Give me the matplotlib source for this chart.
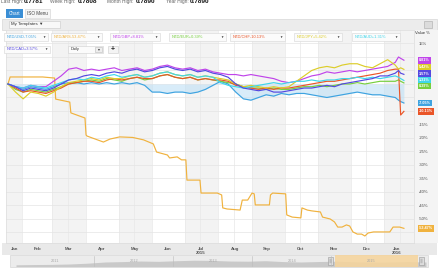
import numpy as np
import pandas as pd
import matplotlib
matplotlib.use("Agg")
import matplotlib.pyplot as plt
import matplotlib.dates as mdates
import matplotlib.transforms as mtransforms
from matplotlib.patches import Rectangle

plt.rcParams['font.family'] = ['Liberation Sans', 'DejaVu Sans']

W, H = 439, 268

# weekly samples (% change since start), plus the last few trading days
dates = list(pd.date_range("2015-01-19", "2016-01-11", freq="7D")) + \
    list(pd.to_datetime(["2016-01-14", "2016-01-16", "2016-01-19"]))

usd = [0, -1, -2, -1, -1.5, -2, -1, 0, 0.5, 0.5,
       0, 0.5, 0, 0.5, 0, 0.5, 0, 0.5, -0.5, -3,
       -3, -3.5, -3, -3, -3.5, -3, -2, -0.5, 1, 0,
       -3, -5.5, -6, -5, -4, -4.5, -3.5, -4, -3.5, -3.5,
       -4, -4.5, -5, -4.5, -4, -3.5, -3, -3.5, -4, -4,
       -4.5, -5, -6, -6.5, -7.05]
gbp = [0, -1, -1.5, -0.5, -1, -1, 1, 3, 5.5, 6,
       5, 5.5, 5, 5.5, 6, 5, 5.5, 6, 5, 5.5,
       6.5, 7, 6, 5.5, 6, 5, 5.5, 4.5, 4, 3.5,
       3.5, 3, 3.5, 3, 2.5, 2, 1, 0.5, 1, 2,
       3, 3.5, 4.5, 4, 4.5, 5, 4.5, 5, 5.5, 6,
       6.5, 8, 10, 9.5, 8.81]
eur = [0, -2, -3, -2, -2.5, -3, -2, -1, 0, 0.5,
       1, 1.5, 1, 2, 1.5, 1, 2, 2.5, 1.5, 2,
       3, 3.5, 2.5, 2, 2.5, 1.5, 2, 1.5, 1, 0.5,
       0, -1, -1.5, -1.5, -2, -1.5, -2, -2, -1.5, -1,
       -1, -0.5, -1, -0.5, 0, 0, 0.5, 0, 0.5, 1,
       1, 1, 1.5, 1, 0.39]
chf = [0, -1.5, -3, -2.5, -3, -3.5, -2.5, -1.5, 0, 0.5,
       1, 1, 0.5, 1.5, 2, 1.5, 2, 2.5, 2, 2,
       3, 3.5, 2.5, 2, 2.5, 1.5, 2, 1.5, 1.5, 1,
       -0.5, -1, -1.5, -2, -1.5, -2, -1.5, -1.5, -1, -0.5,
       0, 0.5, 1, 1, 1.5, 2, 2.5, 3, 3.5, 4,
       5, 5.5, 5.5, -11.5, -10.13]
jpy = [0, -3, -5.5, -3, -3.5, -4.5, -3, -1, 0.5, 1,
       1.5, 2, 1.5, 2.5, 2, 2, 3, 3.5, 2.5, 3,
       4, 4.5, 3.5, 3, 3.5, 2.5, 3, 2.5, 2, 1.5,
       0, -1, -0.5, -1, -1.5, -1, -1.5, -1, 1, 3,
       5, 6, 6.5, 6, 7, 7.5, 7.5, 6.5, 6, 7.5,
       9, 7, 5.5, 6, 5.42]
aud = [0, -1, -1.5, -0.5, -1, -1.5, -0.5, 0.5, 1.5, 2,
       1.5, 2.5, 2, 3, 3.5, 2.5, 3, 3.5, 2.5, 3,
       4, 4.5, 3.5, 3, 3.5, 2.5, 3, 2.5, 0.5, -0.5,
       -1, -1.5, -1, -0.5, 0, 0.5, 0, 0.5, 1, 1,
       1.5, 1, 1.5, 1.5, 2, 2, 2.5, 2, 2.5, 2,
       2.5, 3, 2.5, 2, 1.31]
cad = [0, -1, -2.5, -1.5, -2, -2.5, -1.5, 0, 1.5, 2,
       3, 3.5, 3, 4, 4.5, 4, 5, 5.5, 4.5, 5,
       6, 6.5, 5.5, 5, 5.5, 4.5, 5, 4, 3.5, 2.5,
       0, -1.5, -2, -2.5, -2, -3, -3, -2.5, -2, -1.5,
       -1.5, -1, -0.5, -1, 0, 0.5, 1, 1.5, 2, 3,
       3, 4, 5, 4, 3.57]

# NZD/ARS is quoted in steps, so it keeps its own day list (days after 2015-01-01)
ars_days = [18, 20, 50, 61, 62, 75, 76, 89, 90, 91, 106, 112, 121, 133, 143, 152,
            155, 165, 167, 174, 178, 182, 183, 195, 196, 211, 215, 216, 220, 232,
            234, 239, 243, 245, 246, 259, 260, 262, 274, 275, 280, 288, 289, 294,
            298, 306, 308, 315, 319, 322, 326, 330, 333, 336, 340, 344, 347, 350,
            355, 361, 370, 373, 379, 383]
ars = [0, 2.6, 2.6, 2.2, -5.6, -6.7, -10.7, -12.6, -18.9, -19.3, -21.5, -20.4,
       -19.6, -19.8, -20.7, -22.2, -25.2, -26.3, -27.4, -27.0, -28.1, -28.1,
       -35.6, -35.6, -40.4, -40.4, -41.1, -45.9, -46.3, -46.7, -43.0, -43.0,
       -40.4, -40.7, -44.8, -44.8, -41.1, -40.4, -40.7, -48.5, -49.3, -49.6,
       -45.9, -46.7, -47.0, -47.4, -49.3, -50.0, -51.1, -53.0, -53.0, -52.2,
       -52.6, -54.8, -55.6, -55.6, -56.3, -55.2, -54.8, -54.8, -54.8, -53.0,
       -53.0, -53.47]
ars_dates = pd.Timestamp("2015-01-01") + pd.to_timedelta(ars_days, unit="D")

names = ["NZD/USD", "NZD/ARS", "NZD/GBP", "NZD/EUR", "NZD/CHF", "NZD/JPY", "NZD/AUD", "NZD/CAD"]
colors = ["#3ea3e0", "#f0b23e", "#c044ea", "#76cf3e", "#ea5528", "#dccd2a", "#3fd6ea", "#5548e0"]
series = [usd, ars, gbp, eur, chf, jpy, aud, cad]
xs = [dates, ars_dates, dates, dates, dates, dates, dates, dates]

month_ticks = pd.to_datetime(["2015-01-25", "2015-02-15", "2015-03-16", "2015-04-15",
                              "2015-05-16", "2015-06-15", "2015-07-16", "2015-08-16",
                              "2015-09-15", "2015-10-16", "2015-11-15", "2015-12-16",
                              "2016-01-12"])
month_labels = ["Jan", "Feb", "Mar", "Apr", "May", "Jun", "Jul\n2015", "Aug",
                "Sep", "Oct", "Nov", "Dec", "Jan\n2016"]
header = [("Last High:", "0.7781"), ("Week High:", "0.7808"),
          ("Month High:", "0.7890"), ("Year High:", "0.7890")]
nav_years = ["2011", "2012", "2013", "2014", "2015"]
nav_level = [0.15, 0.18, 0.2, 0.25, 0.35, 0.5, 0.55, 0.62, 0.58, 0.66, 0.72, 0.7,
             0.62, 0.6, 0.66, 0.55, 0.5, 0.56, 0.6, 0.52, 0.48, 0.5, 0.55, 0.5]

fig = plt.figure(figsize=(W / 100, H / 100), dpi=100)
fig.patch.set_facecolor("white")


def frac(x0, y0, x1, y1):
    return [x0 / W, 1 - y1 / H, (x1 - x0) / W, (y1 - y0) / H]


def rect(axx, x0, y0, x1, y1, fc, ec="none", lw=0.4, **kw):
    axx.add_patch(Rectangle((x0, y0), x1 - x0, y1 - y0, fc=fc, ec=ec, lw=lw, **kw))


# background chrome
bg = fig.add_axes([0, 0, 1, 1], zorder=0)
bg.set_xlim(0, W)
bg.set_ylim(H, 0)
bg.axis("off")

# header text, cut off at the top
for (lab, val), lx, vx in zip(header, [1, 50, 107, 166], [24, 78, 136, 190]):
    bg.text(lx, 1.2, lab, fontsize=3.5, color="#666", va="center", ha="left")
    bg.text(vx, 1.2, val, fontsize=4.6, color="#111", fontweight="bold",
            va="center", ha="left")

# tabs
rect(bg, 6, 9, 23, 17.5, "#3a8ed5")
bg.text(14.5, 13.3, "Chart", fontsize=3.3, color="white", ha="center", va="center")
rect(bg, 25, 9, 50, 17.5, "#f6f6f6", "#cfcfcf")
bg.text(37.5, 13.3, "ISO Menu", fontsize=3.3, color="#444", ha="center", va="center")

# toolbar
rect(bg, 2, 18.5, 437, 29.5, "#ececec", "#d0d0d0")
rect(bg, 9, 20.5, 60, 27.5, "#f8f8f8", "#c8c8c8")
bg.text(11, 24, "My Templates \u25bc", fontsize=3.2, color="#333", va="center")
rect(bg, 424, 20.5, 432, 27.5, "#dcdcdc", "#aaaaaa")

# right value column and bottom bands
rect(bg, 414, 30, 439, 243, "#f4f4f4")
bg.text(422, 33, "Value %", fontsize=3, color="#333", ha="center", va="center")
rect(bg, 2, 243, 437, 254.5, "#e9e9e9")
rect(bg, 10, 255, 428, 267, "#ececec", "#cfcfcf")

# navigator silhouette
nav_x = np.linspace(16, 426, len(nav_level))
nav_y = 266 - 8 * np.array(nav_level)
bg.fill_between(nav_x, nav_y, 266.5, color="#c9c9c9", lw=0)
rect(bg, 335, 255.3, 418, 266.7, "#f6d49a", alpha=0.85)
for i, yr in enumerate(nav_years):
    cx = 55 + i * 79
    bg.text(cx, 261, yr, fontsize=2.8, color="#a8a8a8", ha="center", va="center")
    if i < 4:
        bg.plot([94 + i * 79] * 2, [256, 266], color="#bbbbbb", lw=0.4)
for hx0 in (328, 419):
    rect(bg, hx0, 257, hx0 + 5, 265, "#dddddd", "#999999")
    bg.plot([hx0 + 2, hx0 + 2], [259, 263], color="#888", lw=0.3)
    bg.plot([hx0 + 3, hx0 + 3], [259, 263], color="#888", lw=0.3)

# main chart
ax = fig.add_axes(frac(6, 30, 414, 243), zorder=1)
ax.set_facecolor("white")
x_lo = pd.Timestamp("2015-01-01") + pd.Timedelta(days=16.2)
x_hi = pd.Timestamp("2015-01-01") + pd.Timedelta(days=392.3)
ax.set_xlim(x_lo, x_hi)
ax.set_ylim(-58.9, 20)

for m in pd.date_range("2015-01-01", "2016-01-01", freq="2MS"):
    ax.axvspan(max(m, x_lo), m + pd.offsets.MonthBegin(1), color="#f3f3f3", lw=0, zorder=0)

ax.xaxis.set_minor_locator(mdates.MonthLocator(bymonthday=[1, 15]))
yticks = np.arange(-55, 16, 5)
ax.set_yticks(yticks)
ax.grid(axis="y", color="#e4e4e4", lw=0.5)
ax.grid(axis="x", which="minor", color="#e8e8e8", lw=0.5)
ax.set_axisbelow(True)

ax.set_xticks(month_ticks)
ax.set_xticklabels(month_labels)
ax.tick_params(axis="x", which="both", length=0, pad=3.2, labelsize=3.2,
               labelcolor="#555")
for t in ax.get_xticklabels():
    t.set_fontweight("bold")
    t.set_linespacing(0.9)

for s in ax.spines.values():
    s.set_color("#dddddd")
    s.set_linewidth(0.5)

ax.fill_between(dates, usd, 0, color="#bfe0f6", alpha=0.6, lw=0, zorder=1)
for x, v, c in zip(xs, series, colors):
    ax.plot(x, v, color=c, lw=0.85, zorder=2)

# value labels on the right axis, pushed apart where they collide
ends = [v[-1] for v in series]
order = np.argsort(ends)[::-1]
pos = np.array([ends[i] for i in order], dtype=float)
gap = 2.3
for _ in range(200):
    for i in range(len(pos) - 1):
        d = pos[i] - pos[i + 1]
        if d < gap:
            pos[i] += (gap - d) / 2
            pos[i + 1] -= (gap - d) / 2
trans = mtransforms.blended_transform_factory(ax.transAxes, ax.transData)
for p, i in zip(pos, order):
    ax.text(1.012, p, f"{ends[i]:.2f}%", transform=trans, fontsize=2.7,
            color="white", fontweight="bold", va="center", ha="left", clip_on=False,
            zorder=5,
            bbox=dict(boxstyle="square,pad=0.35", fc=colors[i], ec="none"))

# axis labels that the value boxes hide
ax.yaxis.tick_right()
ax.set_yticklabels(["" if np.min(np.abs(pos - v)) < 2.3 else f"{v}%" for v in yticks])
ax.tick_params(axis="y", length=0, pad=3.5, labelsize=3, labelcolor="#444")

# legend boxes drawn over the top of the plot
fg = fig.add_axes([0, 0, 1, 1], zorder=2)
fg.set_xlim(0, W)
fg.set_ylim(H, 0)
fg.axis("off")
fg.patch.set_alpha(0)

box_x = [(4, 48), (51, 102), (110, 160), (169, 226), (230, 285), (294, 342), (352, 400), (4, 50)]
for k, (name, v, c) in enumerate(zip(names, series, colors)):
    x0, x1 = box_x[k]
    y0 = 33 if k < 7 else 45.5
    rect(fg, x0, y0, x1, y0 + 7.5, "#fbfbfb", "#d6d6d6")
    fg.text(x0 + 2.5, y0 + 3.9, f"{name}{v[-1]:+.2f}%", fontsize=2.9, color=c,
            va="center", ha="left")
    fg.text(x1 - 4.5, y0 + 3.9, "\u25bc", fontsize=2.3, color="#333",
            va="center", ha="center")

rect(fg, 68, 45.5, 103, 53, "#fbfbfb", "#d0d0d0")
fg.text(71, 49.3, "Daily", fontsize=2.9, color="#333", va="center")
rect(fg, 95, 46.5, 102, 52, "#eeeeee", "#bbbbbb")
fg.text(98.5, 49.3, "\u25be", fontsize=2.8, color="#333", va="center", ha="center")
rect(fg, 108, 45.5, 118, 53, "#f4f4f4", "#cccccc")
fg.text(113, 49.3, "+", fontsize=5, color="#222", fontweight="bold", va="center", ha="center")

fig.savefig("out.png", dpi=100)
